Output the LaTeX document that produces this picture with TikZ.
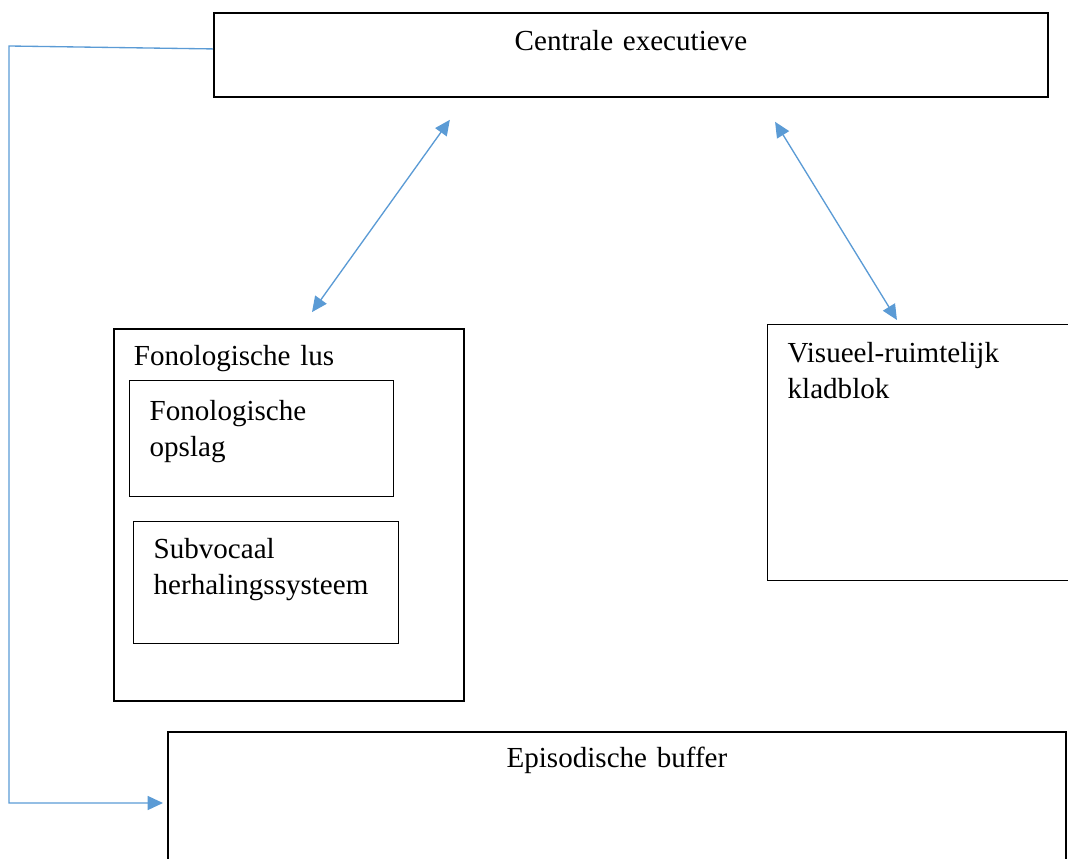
\documentclass[tikz,border=0pt]{standalone}
\usepackage{fontspec}
\setmainfont{Liberation Serif}
\usepackage{tikz}
\usetikzlibrary{arrows.meta}
\definecolor{linkblue}{HTML}{5B9BD5}
\tikzset{
	box/.style={rectangle, draw=black, line width=1.4pt, anchor=north west, align=left, inner xsep=15pt, inner ysep=0pt, font=\fontsize{21.8pt}{27pt}\selectfont},
	arrow/.style={draw=linkblue, line width=1pt, -{Triangle[length=11.5pt, width=10.5pt]}},
	biarrow/.style={arrow, {Triangle[length=11.5pt, width=10.5pt]}-{Triangle[length=11.5pt, width=10.5pt]}}
}

\begin{document}
\begin{tikzpicture}[x=0.75pt, y=-0.75pt]
		\useasboundingbox (0,0) rectangle (1068,859);
		\clip (0,0) rectangle (1068,859);
		
		% Bovenste blok
		\node (ce) [box, inner xsep=0pt, text width=625.5pt, align=center, text height=28.5pt, text depth=34.5pt] at (213,12) {Centrale executieve};
		
		% Fonologische lus met twee deelblokken
		\node (fl) [box, text width=232.5pt, text height=27.75pt, text depth=251.25pt] at (113,328) {Fonologische lus};
		\node (fo) [box, line width=1pt, text width=168pt, text height=30pt, text depth=57pt] at (129,380) {Fonologische\\opslag};
		\node (sv) [box, line width=1pt, text width=168.75pt, text height=27.75pt, text depth=63.75pt] at (133,521) {Subvocaal\\herhalingssysteem};
		
		% Rechterblok en onderste blok
		\node (vr) [box, line width=1pt, text width=225pt, text height=28.5pt, text depth=163.5pt] at (767,324) {Visueel-ruimtelijk\\kladblok};
		\node (eb) [box, inner xsep=0pt, text width=673.5pt, align=center, text height=27pt, text depth=99.75pt] at (167,731) {Episodische buffer};
		
		% Verbindingen
		\coordinate (hoekBoven) at (9,46);
		\coordinate (hoekOnder) at (9,803);
		\draw [biarrow, shorten <=20.25pt, shorten >=14.7pt] ([xshift=189.45pt]ce.south west) -- ([xshift=140.7pt]fl.north west);
		\draw [biarrow, shorten <=21.1pt, shorten >=3.5pt] ([xshift=410.5pt]ce.south west) -- ([xshift=99.3pt]vr.north west);
		\draw [arrow, shorten >=3pt] ([yshift=4.5pt]ce.west) -- (hoekBoven) -- (hoekOnder) -- (hoekOnder -| eb.west);
	\end{tikzpicture}
\end{document}
